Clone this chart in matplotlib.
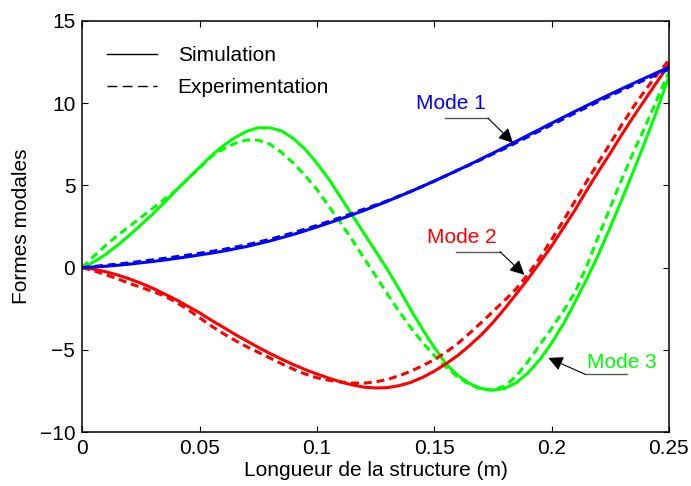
import numpy as np
import matplotlib
matplotlib.use('Agg')
import matplotlib.pyplot as plt
from matplotlib.lines import Line2D

plt.rcParams['font.family'] = ['Liberation Sans', 'DejaVu Sans']

# positions along the structure (m)
x_pos = [0.000, 0.005, 0.010, 0.015, 0.020, 0.025, 0.030, 0.035, 0.040, 0.045,
         0.050, 0.055, 0.060, 0.065, 0.070, 0.075, 0.080, 0.085, 0.090, 0.095,
         0.100, 0.105, 0.110, 0.115, 0.120, 0.125, 0.130, 0.135, 0.140, 0.145,
         0.150, 0.155, 0.160, 0.165, 0.170, 0.175, 0.180, 0.185, 0.190, 0.195,
         0.200, 0.205, 0.210, 0.215, 0.220, 0.225, 0.230, 0.235, 0.240, 0.245,
         0.250]

# mode 1
mode1_sim = [0.0, 0.04, 0.08, 0.14, 0.21, 0.29, 0.37, 0.46, 0.56, 0.66,
             0.77, 0.88, 1.0, 1.14, 1.28, 1.45, 1.62, 1.82, 2.02, 2.24,
             2.47, 2.71, 2.95, 3.21, 3.47, 3.75, 4.03, 4.33, 4.63, 4.94,
             5.26, 5.59, 5.92, 6.26, 6.61, 6.96, 7.32, 7.68, 8.05, 8.41,
             8.78, 9.14, 9.5, 9.85, 10.2, 10.54, 10.88, 11.21, 11.54, 11.86,
             12.18]
mode1_exp = [0.0, 0.07, 0.14, 0.21, 0.29, 0.38, 0.47, 0.56, 0.66, 0.76,
             0.87, 0.98, 1.1, 1.24, 1.38, 1.55, 1.72, 1.92, 2.12, 2.34,
             2.56, 2.8, 3.04, 3.29, 3.55, 3.8, 4.06, 4.35, 4.63, 4.94,
             5.26, 5.59, 5.92, 6.24, 6.57, 6.91, 7.24, 7.6, 7.96, 8.32,
             8.68, 9.04, 9.4, 9.75, 10.1, 10.44, 10.78, 11.11, 11.44, 11.75,
             12.06]

# mode 2
mode2_sim = [0.0, -0.1, -0.25, -0.45, -0.68, -0.95, -1.25, -1.6, -1.95, -2.35,
             -2.75, -3.2, -3.62, -4.05, -4.45, -4.85, -5.22, -5.57, -5.9, -6.2,
             -6.47, -6.72, -6.95, -7.13, -7.27, -7.32, -7.3, -7.18, -6.98, -6.68,
             -6.3, -5.85, -5.35, -4.75, -4.1, -3.35, -2.5, -1.6, -0.68, 0.3,
             1.3, 2.4, 3.5, 4.7, 5.85, 6.95, 8.1, 9.2, 10.25, 11.3,
             12.35]
mode2_exp = [0.0, -0.2, -0.43, -0.68, -0.95, -1.2, -1.45, -1.72, -2.1, -2.55,
             -3.05, -3.55, -4.0, -4.42, -4.8, -5.15, -5.5, -5.85, -6.18, -6.47,
             -6.7, -6.85, -6.95, -7.02, -7.03, -6.95, -6.8, -6.58, -6.3, -5.97,
             -5.6, -5.15, -4.62, -4.0, -3.35, -2.67, -2.0, -1.28, -0.4, 0.6,
             1.7, 2.85, 4.05, 5.25, 6.4, 7.55, 8.7, 9.8, 10.8, 11.75,
             12.6]

# mode 3
mode3_sim = [0.0, 0.35, 0.8, 1.35, 1.95, 2.6, 3.25, 3.95, 4.7, 5.4,
             6.1, 6.8, 7.4, 7.9, 8.28, 8.5, 8.5, 8.3, 7.85, 7.2,
             6.35, 5.4, 4.3, 3.2, 2.1, 1.0, -0.1, -1.3, -2.55, -3.75,
             -4.85, -5.85, -6.55, -7.05, -7.35, -7.45, -7.35, -7.0, -6.4, -5.6,
             -4.6, -3.45, -2.1, -0.7, 0.8, 2.45, 4.15, 5.9, 7.7, 9.6,
             11.6]
mode3_exp = [0.0, 0.7, 1.35, 1.95, 2.5, 3.05, 3.6, 4.15, 4.7, 5.4,
             6.05, 6.75, 7.2, 7.55, 7.75, 7.75, 7.5, 7.0, 6.35, 5.6,
             4.75, 3.75, 2.75, 1.7, 0.6, -0.5, -1.6, -2.65, -3.65, -4.55,
             -5.35, -6.05, -6.65, -7.1, -7.4, -7.45, -7.2, -6.6, -5.7, -4.7,
             -3.7, -2.65, -1.5, 0.1, 1.9, 3.65, 5.4, 7.05, 8.6, 10.25,
             11.9]

x_ticks = [0, 0.05, 0.1, 0.15, 0.2, 0.25]
x_tick_labels = ['0', '0.05', '0.1', '0.15', '0.2', '0.25']
y_ticks = [-10, -5, 0, 5, 10, 15]

blue = (0, 0, 1)
red = (1, 0, 0)
green = (0, 1, 0)

fig = plt.figure(figsize=(6.91, 4.86), dpi=100)
ax = fig.add_axes([0.119, 0.111, 0.849, 0.846])

lw = 2.2
dash = (2.6, 1.6)
ax.plot(x_pos, mode3_sim, color=green, lw=lw)
ax.plot(x_pos, mode3_exp, color=green, lw=lw, dashes=dash)
ax.plot(x_pos, mode2_sim, color=red, lw=lw)
ax.plot(x_pos, mode2_exp, color=red, lw=lw, dashes=dash)
ax.plot(x_pos, mode1_sim, color=blue, lw=lw)
ax.plot(x_pos, mode1_exp, color=blue, lw=lw, dashes=dash)

ax.set_xlim(0, 0.25)
ax.set_ylim(-10, 15)
ax.set_xticks(x_ticks)
ax.set_xticklabels(x_tick_labels)
ax.set_yticks(y_ticks)
ax.tick_params(direction='in', length=4, width=0.8, labelsize=15,
               top=True, right=True, pad=5)
for s in ax.spines.values():
  s.set_linewidth(1.1)

ax.set_xlabel('Longueur de la structure (m)', fontsize=15, labelpad=2)
ax.set_ylabel('Formes modales', fontsize=15, labelpad=6)

# legend
handles = [Line2D([], [], color='k', lw=1.0),
           Line2D([], [], color='k', lw=1.0, dashes=(7, 4))]
ax.legend(handles, ['Simulation', 'Experimentation'], loc='upper left',
          bbox_to_anchor=(0.01, 0.985), frameon=False, fontsize=15,
          handlelength=2.4, handletextpad=1.0, labelspacing=0.65)

# mode labels with arrows
labels = [
  ('Mode 1', blue, (0.1571, 9.98), (0.1545, 0.1729), 9.09, (0.1729, 9.09), (0.1836, 7.58)),
  ('Mode 2', red, (0.1618, 1.8), (0.1592, 0.178), 0.97, (0.178, 0.97), (0.1884, -0.44)),
  ('Mode 3', green, (0.2299, -5.78), (0.2145, 0.232), -6.5, (0.2145, -6.5), (0.1986, -5.49)),
]
for txt, col, pos, (ux0, ux1), uy, tail, tip in labels:
  ax.text(pos[0], pos[1], txt, color=col, fontsize=15, ha='center', va='center')
  ax.plot([ux0, ux1], [uy, uy], color='0.35', lw=1.0)
  ax.annotate('', xy=tip, xytext=tail,
              arrowprops=dict(arrowstyle='-|>', color='k', lw=0.8,
                              mutation_scale=22, shrinkA=0, shrinkB=0))

fig.savefig('out.png', dpi=100)
